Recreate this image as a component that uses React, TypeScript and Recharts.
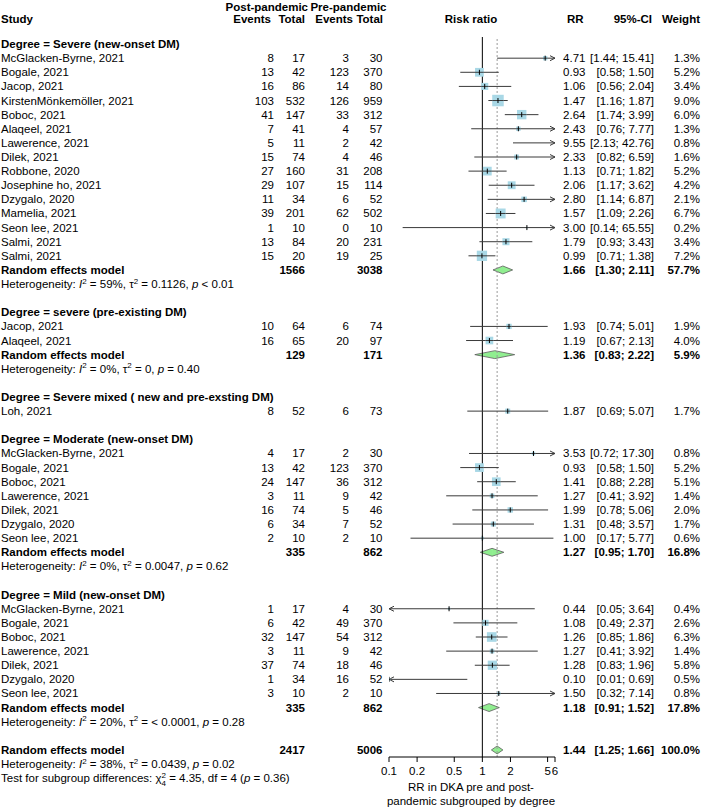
import { ComposedChart, ReferenceArea, ReferenceLine, Scatter, XAxis, YAxis } from 'recharts'

const groupTitles = [
  'Degree = Severe (new-onset DM)',
  'Degree = severe (pre-existing DM)',
  'Degree = Severe mixed ( new and pre-exsting DM)',
  'Degree = Moderate (new-onset DM)',
  'Degree = Mild (new-onset DM)',
]

const studyGroup = [0, 0, 0, 0, 0, 0, 0, 0, 0, 0, 0, 0, 0, 0, 0, 1, 1, 2, 3, 3, 3, 3, 3, 3, 3, 4, 4, 4, 4, 4, 4, 4]
const studyNames = [
  'McGlacken-Byrne, 2021', 'Bogale, 2021', 'Jacop, 2021', 'KirstenMönkemöller, 2021', 'Boboc, 2021',
  'Alaqeel, 2021', 'Lawerence, 2021', 'Dilek, 2021', 'Robbone, 2020', 'Josephine ho, 2021',
  'Dzygalo, 2020', 'Mamelia, 2021', 'Seon lee, 2021', 'Salmi, 2021', 'Salmi, 2021',
  'Jacop, 2021', 'Alaqeel, 2021',
  'Loh, 2021',
  'McGlacken-Byrne, 2021', 'Bogale, 2021', 'Boboc, 2021', 'Lawerence, 2021', 'Dilek, 2021', 'Dzygalo, 2020', 'Seon lee, 2021',
  'McGlacken-Byrne, 2021', 'Bogale, 2021', 'Boboc, 2021', 'Lawerence, 2021', 'Dilek, 2021', 'Dzygalo, 2020', 'Seon lee, 2021',
]
const postEvents = [8, 13, 16, 103, 41, 7, 5, 15, 27, 29, 11, 39, 1, 13, 15, 10, 16, 8, 4, 13, 24, 3, 16, 6, 2, 1, 6, 32, 3, 37, 1, 3]
const postTotals = [17, 42, 86, 532, 147, 41, 11, 74, 160, 107, 34, 201, 10, 84, 20, 64, 65, 52, 17, 42, 147, 11, 74, 34, 10, 17, 42, 147, 11, 74, 34, 10]
const preEvents = [3, 123, 14, 126, 33, 4, 2, 4, 31, 15, 6, 62, 0, 20, 19, 6, 20, 6, 2, 123, 36, 9, 5, 7, 2, 4, 49, 54, 9, 18, 16, 2]
const preTotals = [30, 370, 80, 959, 312, 57, 42, 46, 208, 114, 52, 502, 10, 231, 25, 74, 97, 73, 30, 370, 312, 42, 46, 52, 10, 30, 370, 312, 42, 46, 52, 10]
const studyRR = [4.71, 0.93, 1.06, 1.47, 2.64, 2.43, 9.55, 2.33, 1.13, 2.06, 2.8, 1.57, 3.0, 1.79, 0.99, 1.93, 1.19, 1.87, 3.53, 0.93, 1.41, 1.27, 1.99, 1.31, 1.0, 0.44, 1.08, 1.26, 1.27, 1.28, 0.1, 1.5]
const studyLow = [1.44, 0.58, 0.56, 1.16, 1.74, 0.76, 2.13, 0.82, 0.71, 1.17, 1.14, 1.09, 0.14, 0.93, 0.71, 0.74, 0.67, 0.69, 0.72, 0.58, 0.88, 0.41, 0.78, 0.48, 0.17, 0.05, 0.49, 0.85, 0.41, 0.83, 0.01, 0.32]
const studyHigh = [15.41, 1.5, 2.04, 1.87, 3.99, 7.77, 42.76, 6.59, 1.82, 3.62, 6.87, 2.26, 65.55, 3.43, 1.38, 5.01, 2.13, 5.07, 17.3, 1.5, 2.28, 3.92, 5.06, 3.57, 5.77, 3.64, 2.37, 1.86, 3.92, 1.96, 0.69, 7.14]
const studyWeight = [1.3, 5.2, 3.4, 9.0, 6.0, 1.3, 0.8, 1.6, 5.2, 4.2, 2.1, 6.7, 0.2, 3.4, 7.2, 1.9, 4.0, 1.7, 0.8, 5.2, 5.1, 1.4, 2.0, 1.7, 0.6, 0.4, 2.6, 6.3, 1.4, 5.8, 0.5, 0.8]

// pooled results per subgroup (null = single study, no pooling)
const pooledPostTotal = [1566, 129, null, 335, 335]
const pooledPreTotal = [3038, 171, null, 862, 862]
const pooledRR = [1.66, 1.36, null, 1.27, 1.18]
const pooledLow = [1.3, 0.83, null, 0.95, 0.91]
const pooledHigh = [2.11, 2.22, null, 1.7, 1.52]
const pooledWeight = [57.7, 5.9, null, 16.8, 17.8]
const hetI2 = ['59%', '0%', null, '0%', '20%']
const hetTau2 = ['0.1126', '0', null, '0.0047', '< 0.0001']
const hetP = ['< 0.01', '= 0.40', null, '= 0.62', '= 0.28']

const overallPostTotal = 2417
const overallPreTotal = 5006
const overallRR = 1.44
const overallLow = 1.25
const overallHigh = 1.66
const overallWeight = 100.0
const overallHet = ['38%', '0.0439', '= 0.02']
const subgroupTest = { chi2: '4.35', df: 4, p: '0.36' }

const axisDomain = [0.1, 6]
const axisTicks = [0.1, 0.2, 0.5, 1, 2, 5, 6]

// the x axis is drawn on log10(RR), linear
const lg = (v: number) => Math.log10(v)
const xDomain = axisDomain.map(lg)
const xTicks = axisTicks.map(lg)

const FONT = '"Liberation Sans", Arial, Helvetica, sans-serif'
const FS = 11.5
const LINE = '#3a3a3a'
const SQUARE = '#a9d8e6'
const GREEN = '#90ee90'
const DIAMOND_EDGE = '#5a5a5a'

const W = 702
const H = 809
const PLOT_TOP = 37
const AXIS_H = 52
const LEFT_W = 389
const RIGHT_W = 147
const COL = { name: 1, postEv: 274, postTot: 305, preEv: 349, preTot: 382.5, rr: 585.5, ci: 654, wt: 700 }

// one row per line of the plot
const rows: any[] = []
groupTitles.forEach((title, g) => {
  rows.push({ kind: 'title', label: title })
  studyNames.forEach((_, i) => {
    if (studyGroup[i] === g) rows.push({ kind: 'study', i })
  })
  if (pooledRR[g] != null) {
    rows.push({ kind: 'pooled', g })
    rows.push({ kind: 'het', g })
  }
  rows.push({ kind: 'blank' })
})
rows.push({ kind: 'overall' })

const NROWS = rows.length
const ROW_H = (H - AXIS_H - PLOT_TOP) / NROWS
const rowY = (r: number) => PLOT_TOP + (r + 0.5) * ROW_H
const rowTicks = rows.map((_, r) => r)

const studyPoints = rows
  .map((r, row) =>
    r.kind === 'study'
      ? { row, x: lg(studyRR[r.i]), lo: studyLow[r.i], hi: studyHigh[r.i], w: studyWeight[r.i] }
      : null,
  )
  .filter(Boolean) as any[]

const pooledPoints = rows
  .map((r, row) => {
    if (r.kind === 'pooled') return { row, rr: pooledRR[r.g], lo: pooledLow[r.g], hi: pooledHigh[r.g] }
    if (r.kind === 'overall') return { row, rr: overallRR, lo: overallLow, hi: overallHigh }
    return null
  })
  .filter(Boolean) as any[]

const maxWeight = Math.max(...studyWeight)
const fmt2 = (v: number) => v.toFixed(2)
const ciText = (lo: number, hi: number) => `[${fmt2(lo)}; ${fmt2(hi)}]`

function T({ x, y, anchor = 'start', bold = false, children }: any) {
  return (
    <text x={x} y={y} textAnchor={anchor} fontSize={FS} fontWeight={bold ? 700 : 400} fill="#000" fontFamily={FONT}>
      {children}
    </text>
  )
}

function HetText({ y, i2, tau2, p }: any) {
  return (
    <text x={COL.name} y={y} fontSize={FS} fill="#000" fontFamily={FONT}>
      {'Heterogeneity: '}
      <tspan fontStyle="italic">I</tspan>
      <tspan fontSize={8} dy={-4.5}>2</tspan>
      <tspan dy={4.5}>{` = ${i2}, τ`}</tspan>
      <tspan fontSize={8} dy={-4.5}>2</tspan>
      <tspan dy={4.5}>{` = ${tau2}, `}</tspan>
      <tspan fontStyle="italic">p</tspan>
      <tspan>{` ${p}`}</tspan>
    </text>
  )
}

function LeftTick({ y, payload }: any) {
  const r = rows[payload.value]
  if (!r) return null
  const ty = y + 4
  if (r.kind === 'title') return <T x={COL.name} y={ty} bold>{r.label}</T>
  if (r.kind === 'study') {
    const i = r.i
    return (
      <g>
        <T x={COL.name} y={ty}>{studyNames[i]}</T>
        <T x={COL.postEv} y={ty} anchor="end">{postEvents[i]}</T>
        <T x={COL.postTot} y={ty} anchor="end">{postTotals[i]}</T>
        <T x={COL.preEv} y={ty} anchor="end">{preEvents[i]}</T>
        <T x={COL.preTot} y={ty} anchor="end">{preTotals[i]}</T>
      </g>
    )
  }
  if (r.kind === 'pooled' || r.kind === 'overall') {
    const post = r.kind === 'pooled' ? pooledPostTotal[r.g] : overallPostTotal
    const pre = r.kind === 'pooled' ? pooledPreTotal[r.g] : overallPreTotal
    return (
      <g>
        <T x={COL.name} y={ty} bold>Random effects model</T>
        <T x={COL.postTot} y={ty} anchor="end" bold>{post}</T>
        <T x={COL.preTot} y={ty} anchor="end" bold>{pre}</T>
      </g>
    )
  }
  if (r.kind === 'het') return <HetText y={ty} i2={hetI2[r.g]} tau2={hetTau2[r.g]} p={hetP[r.g]} />
  return null
}

function RightTick({ y, payload }: any) {
  const r = rows[payload.value]
  if (!r) return null
  const ty = y + 4
  let rr: number, lo: number, hi: number, wt: number, bold = false
  if (r.kind === 'study') {
    rr = studyRR[r.i]; lo = studyLow[r.i]; hi = studyHigh[r.i]; wt = studyWeight[r.i]
  } else if (r.kind === 'pooled') {
    rr = pooledRR[r.g] as number; lo = pooledLow[r.g] as number; hi = pooledHigh[r.g] as number; wt = pooledWeight[r.g] as number; bold = true
  } else if (r.kind === 'overall') {
    rr = overallRR; lo = overallLow; hi = overallHigh; wt = overallWeight; bold = true
  } else return null
  return (
    <g>
      <T x={COL.rr} y={ty} anchor="end" bold={bold}>{fmt2(rr)}</T>
      <T x={COL.ci} y={ty} anchor="end" bold={bold}>{ciText(lo, hi)}</T>
      <T x={COL.wt} y={ty} anchor="end" bold={bold}>{`${wt.toFixed(1)}%`}</T>
    </g>
  )
}

function AxisTick({ x, y, index }: any) {
  return (
    <text x={x} y={y + 11} textAnchor="middle" fontSize={FS} fill="#000" fontFamily={FONT}>
      {axisTicks[index]}
    </text>
  )
}

function CiSegment(props: any) {
  const { x1, y1, x2, arrowL, arrowR } = props
  return (
    <g>
      <line x1={x1} y1={y1} x2={x2} y2={y1} stroke={LINE} strokeWidth={1} />
      {arrowL && <path d={`M${x1 + 5},${y1 - 2.5} L${x1},${y1} L${x1 + 5},${y1 + 2.5}`} fill="none" stroke={LINE} />}
      {arrowR && <path d={`M${x2 - 5},${y1 - 2.5} L${x2},${y1} L${x2 - 5},${y1 + 2.5}`} fill="none" stroke={LINE} />}
    </g>
  )
}

function StudySquare(props: any) {
  const { cx, cy, payload } = props
  const s = 11.5 * Math.sqrt(payload.w / maxWeight)
  return (
    <g>
      <rect x={cx - s / 2} y={cy - s / 2} width={s} height={s} fill={SQUARE} />
      <line x1={cx - s / 2} x2={cx + s / 2} y1={cy} y2={cy} stroke={LINE} />
      <line x1={cx} x2={cx} y1={cy - 2.5} y2={cy + 2.5} stroke="#000" />
    </g>
  )
}

function DiamondLeft({ x, y, width, height }: any) {
  const m = y + height / 2
  return (
    <g>
      <path d={`M${x + width + 0.5},${y} L${x},${m} L${x + width + 0.5},${y + height} Z`} fill={GREEN} />
      <path d={`M${x + width},${y} L${x},${m} L${x + width},${y + height}`} fill="none" stroke={DIAMOND_EDGE} strokeWidth={0.8} />
    </g>
  )
}

function DiamondRight({ x, y, width, height }: any) {
  const m = y + height / 2
  return (
    <g>
      <path d={`M${x},${y} L${x + width},${m} L${x},${y + height} Z`} fill={GREEN} />
      <path d={`M${x},${y} L${x + width},${m} L${x},${y + height}`} fill="none" stroke={DIAMOND_EDGE} strokeWidth={0.8} />
    </g>
  )
}

function Overlay() {
  const hy = 10.5
  const sy = 22.5
  return (
    <svg width={W} height={H} style={{ position: 'absolute', left: 0, top: 0, pointerEvents: 'none' }}>
      <T x={308} y={hy} anchor="end" bold>Post-pandemic</T>
      <T x={386.5} y={hy} anchor="end" bold>Pre-pandemic</T>
      <T x={COL.name} y={sy} bold>Study</T>
      <T x={271} y={sy} anchor="end" bold>Events</T>
      <T x={305} y={sy} anchor="end" bold>Total</T>
      <T x={353} y={sy} anchor="end" bold>Events</T>
      <T x={383} y={sy} anchor="end" bold>Total</T>
      <T x={471} y={sy} anchor="middle" bold>Risk ratio</T>
      <T x={583.5} y={sy} anchor="end" bold>RR</T>
      <T x={652} y={sy} anchor="end" bold>95%-CI</T>
      <T x={COL.wt} y={sy} anchor="end" bold>Weight</T>

      <HetText y={rowY(NROWS) + 4} i2={overallHet[0]} tau2={overallHet[1]} p={overallHet[2]} />
      <text x={COL.name} y={rowY(NROWS + 1) + 4} fontSize={FS} fill="#000" fontFamily={FONT}>
        {'Test for subgroup differences: χ'}
        <tspan fontSize={8} dy={-4.5}>2</tspan>
        <tspan fontSize={8} dx={-4.5} dy={8}>{subgroupTest.df}</tspan>
        <tspan dy={-3.5}>{` = ${subgroupTest.chi2}, df = ${subgroupTest.df} (`}</tspan>
        <tspan fontStyle="italic">p</tspan>
        <tspan>{` = ${subgroupTest.p})`}</tspan>
      </text>

      <T x={471} y={791} anchor="middle">RR in DKA pre and post-</T>
      <T x={471} y={805} anchor="middle">pandemic subgrouped by degree</T>
    </svg>
  )
}

export default function App() {
  return (
    <div style={{ position: 'absolute', left: 0, top: 0, width: W, height: H, background: '#fff', fontFamily: FONT }}>
      <ComposedChart width={W} height={H} margin={{ top: PLOT_TOP, right: 0, bottom: 0, left: 0 }}>
        <XAxis
          xAxisId="rr"
          type="number"
          dataKey="x"
          domain={xDomain}
          allowDataOverflow
          ticks={xTicks}
          interval={0}
          height={AXIS_H}
          tickSize={5}
          tickLine={{ stroke: '#000' }}
          axisLine={{ stroke: '#000' }}
          tick={<AxisTick />}
        />
        <YAxis
          yAxisId="left"
          orientation="left"
          type="number"
          dataKey="row"
          domain={[-0.5, NROWS - 0.5]}
          reversed
          allowDataOverflow
          ticks={rowTicks}
          interval={0}
          width={LEFT_W}
          axisLine={false}
          tickLine={false}
          tick={<LeftTick />}
        />
        <YAxis
          yAxisId="right"
          orientation="right"
          type="number"
          dataKey="row"
          domain={[-0.5, NROWS - 0.5]}
          reversed
          allowDataOverflow
          ticks={rowTicks}
          interval={0}
          width={RIGHT_W}
          axisLine={false}
          tickLine={false}
          tick={<RightTick />}
        />
        <ReferenceLine xAxisId="rr" yAxisId="left" x={lg(1)} stroke="#000" strokeWidth={1} ifOverflow="visible" />
        <ReferenceLine xAxisId="rr" yAxisId="left" x={lg(overallRR)} stroke="#999" strokeDasharray="2 2" strokeWidth={1} ifOverflow="visible" />
        <Scatter xAxisId="rr" yAxisId="left" data={studyPoints} dataKey="x" shape={<StudySquare />} isAnimationActive={false} />
        {studyPoints.map((p) => {
          const lo = Math.max(lg(p.lo), xDomain[0])
          const hi = Math.min(lg(p.hi), xDomain[1])
          const arrowL = p.lo < axisDomain[0]
          const arrowR = p.hi > axisDomain[1]
          return (
            <ReferenceLine
              key={`ci-${p.row}`}
              xAxisId="rr"
              yAxisId="left"
              segment={[{ x: lo, y: p.row }, { x: hi, y: p.row }]}
              ifOverflow="visible"
              shape={(sp: any) => <CiSegment {...sp} arrowL={arrowL} arrowR={arrowR} />}
            />
          )
        })}
        {pooledPoints.map((p) => (
          <ReferenceArea
            key={`dl-${p.row}`}
            xAxisId="rr"
            yAxisId="left"
            x1={lg(p.lo)}
            x2={lg(p.rr)}
            y1={p.row - 0.28}
            y2={p.row + 0.28}
            ifOverflow="visible"
            shape={<DiamondLeft />}
          />
        ))}
        {pooledPoints.map((p) => (
          <ReferenceArea
            key={`dr-${p.row}`}
            xAxisId="rr"
            yAxisId="left"
            x1={lg(p.rr)}
            x2={lg(p.hi)}
            y1={p.row - 0.28}
            y2={p.row + 0.28}
            ifOverflow="visible"
            shape={<DiamondRight />}
          />
        ))}
      </ComposedChart>
      <Overlay />
    </div>
  )
}
